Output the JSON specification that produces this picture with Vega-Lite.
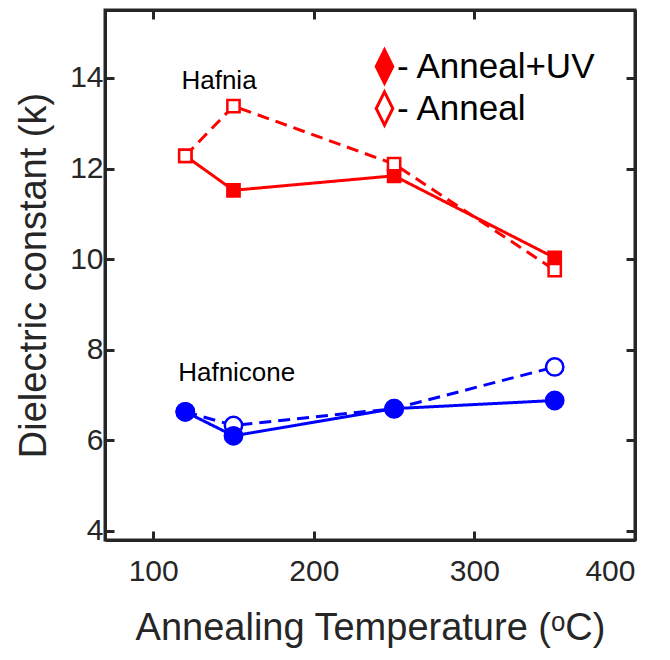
{
  "$schema": "https://vega.github.io/schema/vega-lite/v6.json",
  "width": 530,
  "height": 530,
  "autosize": "none",
  "padding": {"left": 105, "top": 10, "right": 35, "bottom": 120},
  "background": "white",
  "config": {
    "font": "Liberation Sans",
    "view": {"stroke": "#262626", "strokeWidth": 3},
    "axis": {
      "domainColor": "#262626", "domainWidth": 3,
      "tickColor": "#262626", "tickWidth": 3, "tickSize": -9,
      "labelFontSize": 30, "labelColor": "#262626",
      "titleFontSize": 38, "titleFontWeight": "normal", "titleColor": "#262626",
      "grid": false
    }
  },
  "data": {"values": [
    {"material": "Hafnia", "treatment": "Anneal+UV", "temp": 120, "k": 12.28},
    {"material": "Hafnia", "treatment": "Anneal+UV", "temp": 150, "k": 11.52},
    {"material": "Hafnia", "treatment": "Anneal+UV", "temp": 250, "k": 11.84},
    {"material": "Hafnia", "treatment": "Anneal+UV", "temp": 350, "k": 10.03},
    {"material": "Hafnia", "treatment": "Anneal", "temp": 120, "k": 12.28},
    {"material": "Hafnia", "treatment": "Anneal", "temp": 150, "k": 13.38},
    {"material": "Hafnia", "treatment": "Anneal", "temp": 250, "k": 12.1},
    {"material": "Hafnia", "treatment": "Anneal", "temp": 350, "k": 9.76},
    {"material": "Hafnicone", "treatment": "Anneal", "temp": 120, "k": 6.63},
    {"material": "Hafnicone", "treatment": "Anneal", "temp": 150, "k": 6.33},
    {"material": "Hafnicone", "treatment": "Anneal", "temp": 250, "k": 6.7},
    {"material": "Hafnicone", "treatment": "Anneal", "temp": 350, "k": 7.62},
    {"material": "Hafnicone", "treatment": "Anneal+UV", "temp": 120, "k": 6.63},
    {"material": "Hafnicone", "treatment": "Anneal+UV", "temp": 150, "k": 6.1},
    {"material": "Hafnicone", "treatment": "Anneal+UV", "temp": 250, "k": 6.7},
    {"material": "Hafnicone", "treatment": "Anneal+UV", "temp": 350, "k": 6.88}
  ]},
  "layer": [
    {
      "mark": {"type": "line", "strokeWidth": 3},
      "encoding": {
        "x": {"field": "temp", "type": "quantitative", "scale": {"domain": [70, 400], "nice": false},
              "axis": {"orient": "bottom", "values": [100, 200, 300, 400], "title": "Annealing Temperature (ᵒC)", "labelPadding": 25, "titlePadding": 23}},
        "y": {"field": "k", "type": "quantitative", "scale": {"domain": [3.8, 15.5], "nice": false, "zero": false},
              "axis": {"orient": "left", "values": [4, 6, 8, 10, 12, 14], "title": "Dielectric constant (k)", "labelPadding": 11, "titlePadding": 16}},
        "color": {"field": "material", "type": "nominal", "scale": {"domain": ["Hafnia", "Hafnicone"], "range": ["#ff0000", "#0000ff"]}, "legend": null},
        "strokeDash": {"field": "treatment", "type": "nominal", "scale": {"domain": ["Anneal+UV", "Anneal"], "range": [[1, 0], [12, 7]]}, "legend": null}
      }
    },
    {
      "mark": {"type": "point", "filled": true, "strokeWidth": 2.5, "opacity": 1},
      "encoding": {
        "x": {"field": "temp", "type": "quantitative", "axis": {"orient": "top", "labels": false, "title": null, "values": [100, 200, 300, 400]}},
        "y": {"field": "k", "type": "quantitative", "axis": {"orient": "right", "labels": false, "title": null, "values": [4, 6, 8, 10, 12, 14]}},
        "shape": {"field": "material", "type": "nominal", "scale": {"domain": ["Hafnia", "Hafnicone"], "range": ["square", "circle"]}, "legend": null},
        "size": {"field": "material", "type": "nominal", "scale": {"domain": ["Hafnia", "Hafnicone"], "range": [150, 300]}, "legend": null},
        "fill": {"condition": {"test": "datum.treatment === 'Anneal'", "value": "white"},
                 "field": "material", "type": "nominal", "scale": {"domain": ["Hafnia", "Hafnicone"], "range": ["#ff0000", "#0000ff"]}, "legend": null},
        "stroke": {"field": "material", "type": "nominal", "scale": {"domain": ["Hafnia", "Hafnicone"], "range": ["#ff0000", "#0000ff"]}, "legend": null}
      }
    },
    {
      "transform": [{"filter": "false"}],
      "mark": {"type": "point", "filled": true, "stroke": "#ff0000", "strokeWidth": 3, "opacity": 1, "size": 1100, "shape": "M0,-1L0.5,0L0,1L-0.5,0Z"},
      "encoding": {
        "fill": {"field": "treatment", "type": "nominal",
          "scale": {"domain": ["Anneal+UV", "Anneal"], "range": ["#ff0000", "#ffffff"]},
          "legend": {
            "title": null, "orient": "top-right", "offset": 38, "padding": 0,
            "symbolType": "M0,-1L0.5,0L0,1L-0.5,0Z", "symbolSize": 1100,
            "symbolStrokeColor": "#ff0000", "symbolStrokeWidth": 3, "symbolOpacity": 1,
            "labelFontSize": 35, "labelFont": "Liberation Sans", "labelColor": "black", "labelLimit": 400,
            "labelExpr": "'- ' + datum.label", "labelOffset": -6, "rowPadding": -6,
            "encode": {"symbols": {"update": {
              "stroke": {"value": "#ff0000"},
              "strokeWidth": {"value": 3},
              "opacity": {"value": 1},
              "fillOpacity": {"value": 1}
            }}}
          }}
      }
    },
    {
      "data": {"values": [{"label": "Hafnia"}]},
      "mark": {"type": "text", "fontSize": 26, "font": "Liberation Sans", "color": "black", "align": "center", "baseline": "middle"},
      "encoding": {"text": {"field": "label"}, "x": {"datum": 141, "axis": null}, "y": {"datum": 13.93, "axis": null}}
    },
    {
      "data": {"values": [{"label": "Hafnicone"}]},
      "mark": {"type": "text", "fontSize": 26, "font": "Liberation Sans", "color": "black", "align": "center", "baseline": "middle"},
      "encoding": {"text": {"field": "label"}, "x": {"datum": 152, "axis": null}, "y": {"datum": 7.49, "axis": null}}
    }
  ],
  "resolve": {"axis": {"x": "independent", "y": "independent"}, "scale": {"fill": "independent"}, "legend": {"fill": "independent"}}
}
